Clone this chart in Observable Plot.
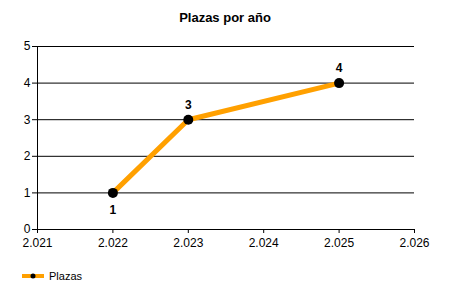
<!DOCTYPE html>
<html><head><meta charset="utf-8">
<script src="https://cdn.jsdelivr.net/npm/d3@7"></script>
<script src="https://cdn.jsdelivr.net/npm/@observablehq/plot@0.6"></script>
<style>
body{margin:0;background:#fff;font-family:"Liberation Sans",Arial,sans-serif;}
#wrap{position:relative;width:450px;height:300px;}
#title{position:absolute;left:0;top:10px;width:450px;text-align:center;font-weight:bold;font-size:13px;color:#000;}
#legend{position:absolute;left:22px;top:270px;font-size:11px;display:flex;align-items:center;}
#legend svg{margin-right:5px;}
</style></head>
<body><div id="wrap"><div id="title">Plazas por año</div><div id="legend"></div></div>
<script>
const years = [2022, 2023, 2025];
const plazas = [1, 3, 4];
const labelPos = ["below", "above", "above"];
const xTicks = [2021, 2022, 2023, 2024, 2025, 2026];
const yTicks = [0, 1, 2, 3, 4, 5];
const seriesName = "Plazas";

const data = years.map((y, i) => ({year: y, value: plazas[i], pos: labelPos[i]}));
const fmtX = n => String(n).replace(/(\d)(\d{3})$/, "$1.$2");
const fmtY = n => String(n);

const chart = Plot.plot({
  width: 450, height: 300,
  marginLeft: 37, marginRight: 36, marginTop: 46, marginBottom: 71,
  style: {fontFamily: "'Liberation Sans', Arial, sans-serif", fontSize: "12px", color: "#000", background: "transparent"},
  x: {domain: [2021, 2026], label: null},
  y: {domain: [0, 5], label: null},
  marks: [
    Plot.gridY(yTicks.filter(d => d > 0), {stroke: "#000", strokeOpacity: 1, strokeWidth: 1}),
    Plot.axisX({ticks: xTicks, tickFormat: fmtX, tickSize: 4, fontSize: 12, tickPadding: 5, label: null}),
    Plot.axisY({ticks: yTicks, tickFormat: fmtY, tickSize: 5, fontSize: 12, tickPadding: 2, label: null}),
    Plot.ruleY([0], {stroke: "#000"}),
    Plot.ruleX([2021], {stroke: "#000"}),
    Plot.line(data, {x: "year", y: "value", stroke: "#FFA000", strokeWidth: 5}),
    Plot.dot(data, {x: "year", y: "value", r: 5, fill: "#000", stroke: "none"}),
    Plot.text(data.filter(d => d.pos === "above"), {x: "year", y: "value", text: d => String(d.value), dy: -15, fontWeight: "bold", fontSize: 12}),
    Plot.text(data.filter(d => d.pos === "below"), {x: "year", y: "value", text: d => String(d.value), dy: 17, fontWeight: "bold", fontSize: 12})
  ]
});
document.getElementById("wrap").prepend(chart);
chart.style.position = "absolute"; chart.style.left = "0"; chart.style.top = "0";

const leg = document.getElementById("legend");
leg.innerHTML = `<svg width="22" height="10"><line x1="0" x2="22" y1="5" y2="5" stroke="#FFA000" stroke-width="4"/><circle cx="11" cy="5" r="2.5" fill="#000"/></svg><span>${seriesName}</span>`;
</script></body></html>
